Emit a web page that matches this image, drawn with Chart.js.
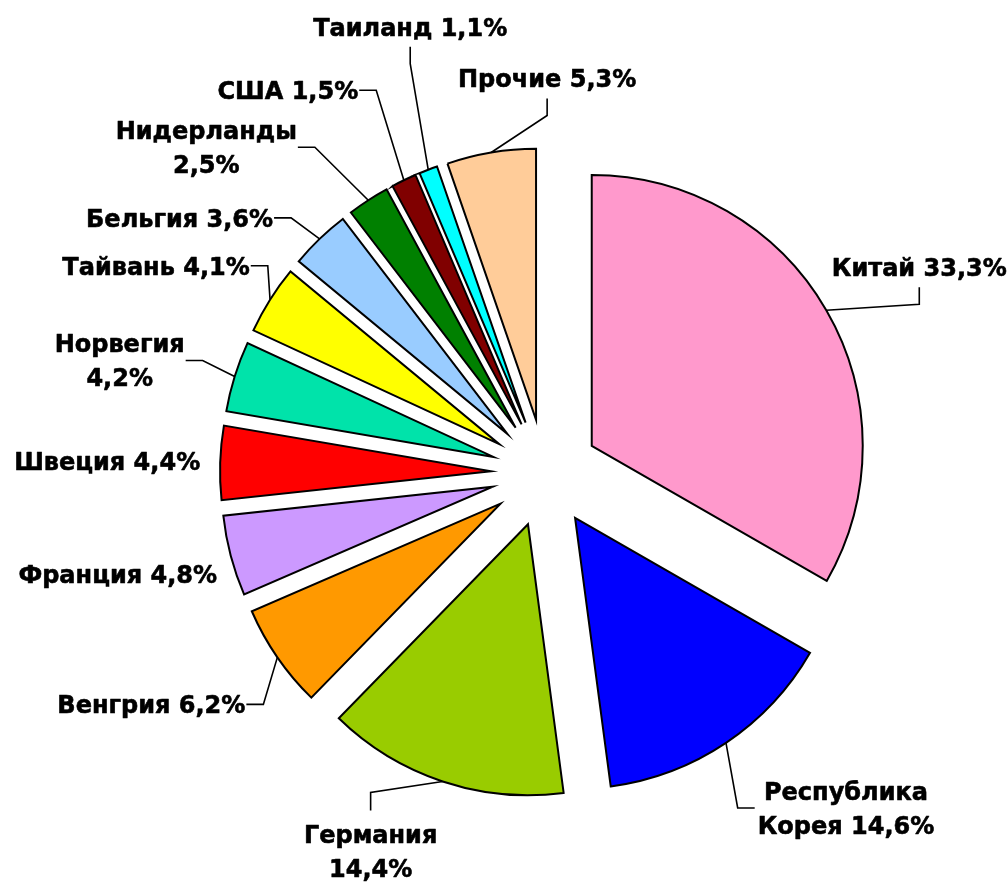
<!DOCTYPE html>
<html lang="ru">
<head>
    <meta charset="UTF-8">
    <title>Импорт по странам</title>
    <script src="https://cdn.jsdelivr.net/npm/chart.js"></script>
    <style>
        body { margin: 0; background: #fff; }
        .wrap { width: 1008px; height: 882px; }
    </style>
</head>
<body>
    <div class="wrap"><canvas id="pieChart"></canvas></div>

    <script>
        // Data (clockwise from 12 o'clock)
        const countries = ['Китай', 'Республика Корея', 'Германия', 'Венгрия', 'Франция', 'Швеция',
            'Норвегия', 'Тайвань', 'Бельгия', 'Нидерланды', 'США', 'Таиланд', 'Прочие'];
        const shares = [33.3, 14.6, 14.4, 6.2, 4.8, 4.4, 4.2, 4.1, 3.6, 2.5, 1.5, 1.1, 5.3];
        const colors = ['#ff99cc', '#0000ff', '#99cc00', '#ff9900', '#cc99ff', '#ff0000',
            '#00e3aa', '#ffff00', '#99ccff', '#008000', '#800000', '#00ffff', '#ffcc99'];

        // label offset from the slice edge [dx, dy], side the leader leaves from, two lines or not
        const labelSpots = [
            [93, -43, 'b', false],
            [120, 65, 'l', true],
            [-72, 70, 't', true],
            [-126, 47, 'r', false],
            [-113, 18, null, false],
            [-113, -2, null, false],
            [-115, -16, 'r', true],
            [-114, -34, 'r', false],
            [-140, -21, 'r', false],
            [-162, -53, 'r', true],
            [-116, -90, 'r', false],
            [-18, -143, 'b', false],
            [56, -74, 'b', false]
        ];

        const FONT = 'bold 24px "DejaVu Sans", Verdana, sans-serif';
        const LINE_H = 34;

        // pull every slice out from the centre by the same distance
        const explode = {
            id: 'explode',
            afterDatasetsUpdate(chart, args, opts) {
                chart.getDatasetMeta(0).data.forEach(arc => {
                    const mid = (arc.startAngle + arc.endAngle) / 2;
                    arc.x += Math.cos(mid) * opts.distance;
                    arc.y += Math.sin(mid) * opts.distance;
                });
            }
        };

        const sliceLabels = {
            id: 'sliceLabels',
            afterDatasetsDraw(chart) {
                const ctx = chart.ctx;
                ctx.save();
                ctx.font = FONT;
                ctx.fillStyle = '#000';
                ctx.strokeStyle = '#000';
                ctx.textAlign = 'center';
                ctx.textBaseline = 'alphabetic';
                ctx.lineJoin = 'round';

                chart.getDatasetMeta(0).data.forEach((arc, i) => {
                    const mid = (arc.startAngle + arc.endAngle) / 2;
                    const px = arc.x + Math.cos(mid) * arc.outerRadius;
                    const py = arc.y + Math.sin(mid) * arc.outerRadius;
                    const [dx, dy, side, wrap] = labelSpots[i];
                    const cx = px + dx, cy = py + dy;

                    const text = countries[i] + ' ' + shares[i].toFixed(1).replace('.', ',') + '%';
                    let lines = [text];
                    if (wrap) {
                        const cut = text.indexOf(' ');
                        lines = [text.slice(0, cut), text.slice(cut + 1)];
                    }
                    const w = Math.max(...lines.map(l => ctx.measureText(l).width));
                    const top = cy - (lines.length - 1) * LINE_H / 2;
                    ctx.lineWidth = 0.6;
                    lines.forEach((l, k) => {
                        ctx.fillText(l, cx, top + k * LINE_H + 9);
                        ctx.strokeText(l, cx, top + k * LINE_H + 9);
                    });

                    if (!side) return;
                    let s, e;
                    if (side === 'r') { s = [cx + w / 2 + 1, cy]; e = [cx + w / 2 + 18, cy]; }
                    if (side === 'l') { s = [cx - w / 2 - 3, cy]; e = [cx - w / 2 - 20, cy]; }
                    if (side === 'b') { s = [cx, cy + 20]; e = [cx, cy + 37]; }
                    if (side === 't') { s = [cx, top - 24]; e = [cx, top - 42]; }
                    ctx.lineWidth = 1.6;
                    ctx.lineJoin = 'miter';
                    ctx.beginPath();
                    ctx.moveTo(s[0], s[1]);
                    ctx.lineTo(e[0], e[1]);
                    ctx.lineTo(px, py);
                    ctx.stroke();
                    ctx.lineJoin = 'round';
                });
                ctx.restore();
            }
        };

        const ctx = document.getElementById('pieChart').getContext('2d');
        const pieChart = new Chart(ctx, {
            type: 'pie',
            data: {
                labels: countries,
                datasets: [{
                    data: shares,
                    backgroundColor: colors,
                    borderColor: '#000',
                    borderWidth: 2,
                    borderJoinStyle: 'miter'
                }]
            },
            options: {
                responsive: true,
                maintainAspectRatio: false,
                animation: false,
                radius: 271,
                layout: { padding: { left: 82, right: 0, top: 64, bottom: 0 } },
                plugins: {
                    legend: { display: false },
                    tooltip: { enabled: false },
                    explode: { distance: 54 }
                }
            },
            plugins: [explode, sliceLabels]
        });
    </script>
</body>
</html>
